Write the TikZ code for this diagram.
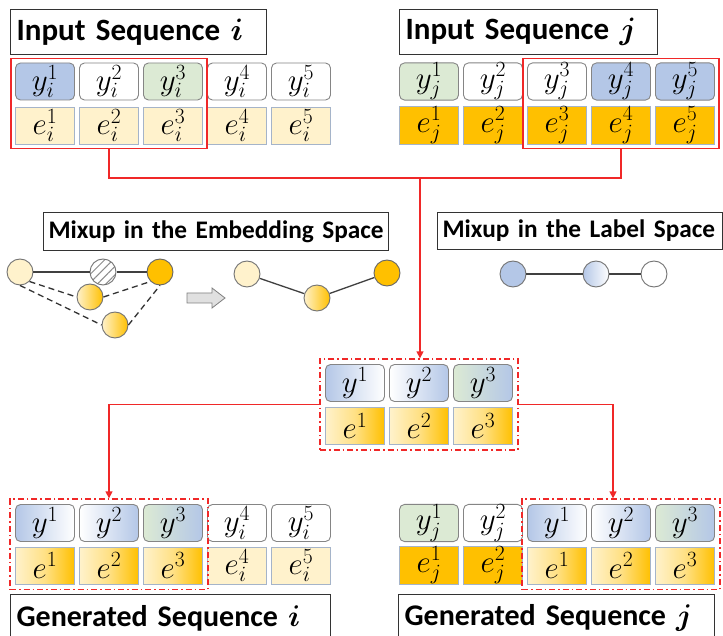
\RequirePackage{fix-cm}
\documentclass[tikz,border=0pt]{standalone}
\usepackage{amsmath}
\usepackage{fontspec}
\newfontfamily\titlefont{Carlito}
\usetikzlibrary{fit,calc,patterns.meta,arrows.meta}
\definecolor{cblue}{HTML}{B4C7E7}
\definecolor{cgreen}{HTML}{DCEAD4}
\definecolor{cyel}{HTML}{FFF2CC}
\definecolor{corange}{HTML}{FFC000}
\definecolor{ebord}{HTML}{A5B4C9}
\definecolor{ybord}{HTML}{858585}
\definecolor{cred}{HTML}{F02828}
\tikzset{
  cellfont/.style={font={\fontsize{31}{34}\selectfont}},
  ycell/.style={draw=ybord, rounded corners=5pt, minimum width=59pt, minimum height=37pt, inner sep=0pt, line width=0.9pt, cellfont},
  ecell/.style={draw=ebord, minimum width=59pt, minimum height=37pt, inner sep=0pt, line width=0.9pt, cellfont},
  egrad/.style={ecell, left color=cyel, right color=corange, middle color=cyel!65!corange},
  titlebox/.style={draw=black!80, line width=1.2pt, inner xsep=6pt, inner ysep=0pt, anchor=north west, align=left, font={\titlefont\bfseries\fontsize{31}{36}\selectfont}},
  gentitle/.style={titlebox, font={\titlefont\bfseries\fontsize{30}{36}\selectfont}},
  subtitle/.style={draw=black!80, line width=1.2pt, inner xsep=5pt, inner ysep=0pt, anchor=north west, align=left, font={\titlefont\bfseries\fontsize{25.3}{30}\selectfont}},
  selbox/.style={draw=cred, line width=1.4pt, inner sep=4pt},
  mixsel/.style={draw=cred, line width=1.4pt, inner sep=5pt, dash pattern=on 6pt off 3pt on 1.5pt off 3pt},
  redline/.style={draw=cred, line width=1.4pt},
  redarrow/.style={redline, -{Triangle[length=7pt,width=7pt]}},
  circ/.style={circle, minimum size=26pt, inner sep=0pt, draw=black!55, line width=0.9pt},
  gline/.style={draw=black!75, line width=1.3pt},
  dline/.style={draw=black!80, line width=1.3pt, dash pattern=on 6pt off 4pt},
}
\begin{document}
\begin{tikzpicture}[x=1pt,y=-1pt]
\useasboundingbox (0,0) rectangle (723,636);
\fill[white] (0,0) rectangle (723,636);

% ---- titles
\node[titlebox, text width=244pt, minimum height=45pt] (ti) at (10,9) {\mbox{Input Sequence $\boldsymbol{i}$}};
\node[titlebox, text width=246pt, minimum height=45pt] (tj) at (399,9) {\mbox{Input Sequence $\boldsymbol{j}$}};
\node[subtitle, text width=335pt, minimum height=38pt] (temb) at (43,212) {\mbox{Mixup in the Embedding Space}};
\node[subtitle, text width=275pt, minimum height=37pt] (tlab) at (437,212) {\mbox{Mixup in the Label Space}};
\node[gentitle, text width=308pt, minimum height=47pt] (tgi) at (10,594) {\mbox{Generated Sequence $\boldsymbol{i}$}};
\node[gentitle, text width=304pt, minimum height=47pt] (tgj) at (398,594) {\mbox{Generated Sequence $\boldsymbol{j}$}};

% ---- input sequence i
\foreach \k/\f in {1/cblue,2/white,3/cgreen,4/white,5/white}
  \node[ycell, fill=\f] (yi\k) at ({45+64*(\k-1)},81.5) {$y_i^{\k}$};
\foreach \k in {1,...,5}
  \node[ecell, fill=cyel] (ei\k) at ({45+64*(\k-1)},125.5) {$e_i^{\k}$};
% ---- input sequence j
\foreach \k/\f in {1/cgreen,2/white,3/white,4/cblue,5/cblue}
  \node[ycell, fill=\f] (yj\k) at ({429+64*(\k-1)},81.5) {$y_j^{\k}$};
\foreach \k in {1,...,5}
  \node[ecell, fill=corange] (ej\k) at ({429+64*(\k-1)},125.5) {$e_j^{\k}$};

\node[selbox, fit=(yi1)(ei3)] (seli) {};
\node[selbox, fit=(yj3)(ej5)] (selj) {};

% ---- mixed sequence
\node[ycell, left color=cblue, right color=white] (ym1) at (355,383) {$y^1$};
\node[ycell, left color=white, right color=cblue] (ym2) at (419,383) {$y^2$};
\node[ycell, left color=cgreen, right color=cblue] (ym3) at (483,383) {$y^3$};
\node[egrad] (em1) at (355,426) {$e^1$};
\node[egrad] (em2) at (419,426) {$e^2$};
\node[egrad] (em3) at (483,426) {$e^3$};
\node[mixsel, fit=(ym1)(em3)] (mixbox) {};

% ---- generated sequence i
\node[ycell, left color=cblue, right color=white] (gy1) at (45,523) {$y^1$};
\node[ycell, left color=white, right color=cblue] (gy2) at (109,523) {$y^2$};
\node[ycell, left color=cgreen, right color=cblue] (gy3) at (173,523) {$y^3$};
\node[ycell, fill=white] (gy4) at (237,523) {$y_i^4$};
\node[ycell, fill=white] (gy5) at (301,523) {$y_i^5$};
\node[egrad] (ge1) at (45,565.5) {$e^1$};
\node[egrad] (ge2) at (109,565.5) {$e^2$};
\node[egrad] (ge3) at (173,565.5) {$e^3$};
\node[ecell, fill=cyel] (ge4) at (237,565.5) {$e_i^4$};
\node[ecell, fill=cyel] (ge5) at (301,565.5) {$e_i^5$};
\node[mixsel, fit=(gy1)(ge3)] (geni) {};

% ---- generated sequence j
\node[ycell, fill=cgreen] (hy1) at (429,523) {$y_j^1$};
\node[ycell, fill=white] (hy2) at (493,523) {$y_j^2$};
\node[ycell, left color=cblue, right color=white] (hy3) at (557,523) {$y^1$};
\node[ycell, left color=white, right color=cblue] (hy4) at (621,523) {$y^2$};
\node[ycell, left color=cgreen, right color=cblue] (hy5) at (685,523) {$y^3$};
\node[ecell, fill=corange] (he1) at (429,565.5) {$e_j^1$};
\node[ecell, fill=corange] (he2) at (493,565.5) {$e_j^2$};
\node[egrad] (he3) at (557,565.5) {$e^1$};
\node[egrad] (he4) at (621,565.5) {$e^2$};
\node[egrad] (he5) at (685,565.5) {$e^3$};
\node[mixsel, fit=(hy3)(he5)] (genj) {};

% ---- red connectors
\coordinate (bus) at (420,178);
\draw[redline] (seli.south) |- (bus) -| (selj.south);
\draw[redarrow] (bus) -- (bus |- mixbox.north);
\draw[redarrow] (mixbox.west) -| (geni.north);
\draw[redarrow] (mixbox.east) -| ([xshift=-8pt]genj.north);

% ---- mixup in the embedding space
\node[circ, fill=cyel] (ca) at (20,272) {};
\node[circ, fill=white, pattern={Lines[angle=45,distance=6pt,line width=1pt]}, pattern color=black!45] (ch) at (103,272) {};
\node[circ, fill=corange, draw=black!60] (co) at (160,272) {};
\node[circ, left color=cyel, right color=corange] (cb) at (90,297) {};
\node[circ, left color=cyel, right color=corange] (cc) at (115,325) {};
\draw[gline] (ca) -- (ch) -- (co);
\draw[dline] (ca.south east) -- (cb.west);
\draw[dline] (cb.east) -- (co.south west);
\draw[dline] (ca.south) -- (cc.west);
\draw[dline] (cc.east) -- (co.south);

\draw[draw=black!50, fill=black!12, line width=0.8pt] (187,293) -- (212,293) -- (212,288) -- (225,298) -- (212,308) -- (212,303) -- (187,303) -- cycle;

\node[circ, fill=cyel] (cd) at (247,274) {};
\node[circ, left color=cyel, right color=corange] (ce) at (317,298) {};
\node[circ, fill=corange, draw=black!60] (cf) at (387,273) {};
\draw[gline] (cd) -- (ce) -- (cf);

% ---- mixup in the label space
\node[circ, fill=cblue] (la) at (513,274) {};
\node[circ, left color=cblue, right color=white] (lb) at (596,274) {};
\node[circ, fill=white] (lc) at (654,274) {};
\draw[gline] (la) -- (lb) -- (lc);
\end{tikzpicture}
\end{document}
